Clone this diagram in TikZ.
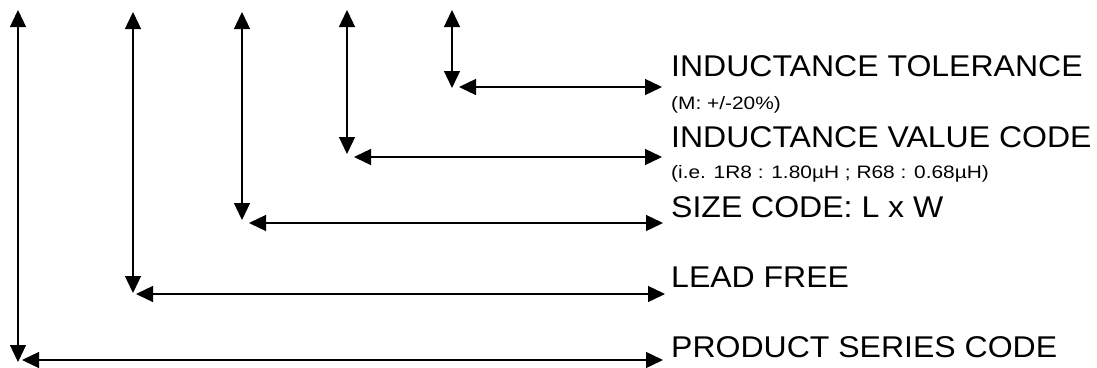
\documentclass[tikz,border=0pt]{standalone}
\usepackage{fontspec}
\setmainfont{Liberation Sans}
\usetikzlibrary{arrows.meta}
\usetikzlibrary{calc}

% Stretched label texts
\newcommand{\labelbig}[1]{\scalebox{1.067}[1]{#1}}
\newcommand{\labelsmall}[1]{\scalebox{1.16}[1]{#1}}

\tikzset{
  botharrow/.style={line width=1.3pt, {Triangle[length=17pt,width=16pt]}-{Triangle[length=17pt,width=16pt]}},
  biglabel/.style={anchor=base west, inner sep=0pt, font=\fontsize{30}{30}\selectfont},
  smalllabel/.style={anchor=base west, inner sep=0pt, font=\fontsize{18}{18}\selectfont}
}

\begin{document}
\begin{tikzpicture}[x=1pt, y=-1pt]
  % Fix the page size
  \useasboundingbox (0,0) rectangle (1097,367);

  % Labels on the right
  \node[biglabel] (tol) at (671,76) {\labelbig{INDUCTANCE TOLERANCE}};
  \node[smalllabel] (tolnote) at (671,109) {\labelsmall{(M: +/-20\%)}};
  \node[biglabel] (val) at (671,147) {\labelbig{INDUCTANCE VALUE CODE}};
  \node[smalllabel] (valnote) at (671,178) {\labelsmall{(i.e. 1R8 : 1.80µH ; R68 : 0.68µH)}};
  \node[biglabel] (size) at (671,217) {\labelbig{SIZE CODE: L x W}};
  \node[biglabel] (lead) at (671,287) {\labelbig{LEAD FREE}};
  \node[biglabel] (series) at (671,357) {\labelbig{PRODUCT SERIES CODE}};

  % Top ends of the vertical arrows
  \coordinate (top1) at (18,10);
  \coordinate (top2) at (133,12);
  \coordinate (top3) at (242,12);
  \coordinate (top4) at (347,10);
  \coordinate (top5) at (452,10);

  % Corners where vertical and horizontal arrows meet
  \coordinate (corner1) at (18,360);
  \coordinate (corner2) at (133,294);
  \coordinate (corner3) at (242,223);
  \coordinate (corner4) at (347,157);
  \coordinate (corner5) at (452,87);

  % Product series code
  \draw[botharrow] (top1) -- ($(corner1)+(0,2)$);
  \draw[botharrow] ($(corner1)+(4,0)$) -- ($(corner1 -| series.west)+(-8,0)$);

  % Lead free
  \draw[botharrow] (top2) -- ($(corner2)+(0,-1)$);
  \draw[botharrow] ($(corner2)+(3,0)$) -- ($(corner2 -| lead.west)+(-6,0)$);

  % Size code
  \draw[botharrow] (top3) -- ($(corner3)+(0,-3)$);
  \draw[botharrow] ($(corner3)+(7,0)$) -- ($(corner3 -| size.west)+(-8,0)$);

  % Inductance value code
  \draw[botharrow] (top4) -- ($(corner4)+(0,-3)$);
  \draw[botharrow] ($(corner4)+(7,0)$) -- ($(corner4 -| val.west)+(-9,0)$);

  % Inductance tolerance
  \draw[botharrow] (top5) -- ($(corner5)+(0,1)$);
  \draw[botharrow] ($(corner5)+(7,0)$) -- ($(corner5 -| tol.west)+(-9,0)$);
\end{tikzpicture}
\end{document}
